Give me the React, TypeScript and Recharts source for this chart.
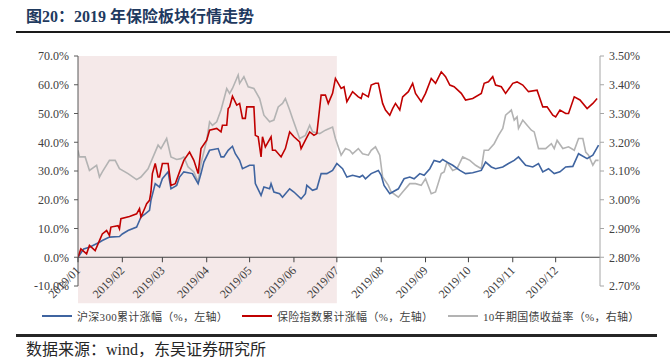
import React from "react"
import { LineChart, Line, XAxis, YAxis, ReferenceArea, ReferenceLine } from "recharts"

// x = day of year (0 = 2019/01/01), calendar-spaced like the source chart
const monthTicks = [0, 31, 59, 90, 120, 151, 181, 212, 243, 273, 304, 334]
const monthLabels = [
  "2019/01", "2019/02", "2019/03", "2019/04", "2019/05", "2019/06",
  "2019/07", "2019/08", "2019/09", "2019/10", "2019/11", "2019/12",
]
const leftTicks = [-10, 0, 10, 20, 30, 40, 50, 60, 70]
const rightTicks = [2.7, 2.8, 2.9, 3.0, 3.1, 3.2, 3.3, 3.4, 3.5]

// 沪深300累计涨幅 (%)
const hs300: [number, number][] = [
  [0, 0], [4, 2.9], [8, 3.5], [15, 5.2], [17, 5.8], [22, 7.0], [29, 7.2], [31, 8.1], [35, 9.3],
  [41, 10.5], [43, 12.8], [44, 14.0], [47, 15.1], [50, 16.3], [51, 19.8], [54, 25.6], [57, 24.4],
  [59, 27.3], [63, 29.7], [65, 23.8], [69, 25.0], [71, 27.9], [74, 29.7], [80, 29.1], [84, 25.6],
  [86, 29.1], [88, 33.1], [92, 37.2], [98, 37.8], [100, 34.9], [102, 34.9], [105, 37.2], [108, 38.6],
  [110, 36.0], [113, 33.7], [115, 30.8], [120, 32.0], [123, 32.0], [124, 25.6], [128, 21.5],
  [130, 24.4], [134, 23.8], [135, 25.6], [137, 22.7], [141, 22.1], [143, 20.9], [148, 23.8],
  [151, 22.7], [156, 20.3], [159, 22.1], [160, 25.0], [164, 23.3], [167, 23.8], [170, 29.1],
  [174, 29.1], [178, 30.2], [181, 32.6], [185, 30.8], [188, 27.9], [192, 28.5], [197, 27.9],
  [199, 28.5], [201, 27.3], [205, 29.1], [210, 30.2], [212, 28.5], [214, 25.0], [218, 22.1],
  [220, 22.7], [224, 23.8], [228, 27.3], [232, 27.9], [235, 27.3], [239, 29.1], [242, 28.5],
  [246, 30.8], [249, 33.7], [253, 33.1], [255, 34.0], [258, 33.1], [262, 32.0], [267, 30.2],
  [271, 29.1], [276, 29.4], [282, 30.2], [285, 33.1], [289, 31.4], [292, 30.8], [297, 31.4],
  [301, 32.6], [305, 33.7], [308, 34.9], [313, 32.0], [318, 31.4], [322, 32.6], [325, 29.7],
  [329, 30.8], [333, 29.1], [337, 29.7], [341, 31.4], [346, 31.6], [350, 36.0], [356, 34.3],
  [360, 35.5], [364, 39.0],
]

// 保险指数累计涨幅 (%)
const insurance: [number, number][] = [
  [0, 0], [2, 2.9], [6, 1.2], [8, 4.1], [12, 2.3], [15, 5.8], [17, 8.1], [20, 9.3], [22, 7.6],
  [23, 10.5], [28, 11.0], [29, 9.9], [30, 13.4], [36, 14.2], [41, 15.1], [43, 16.9], [44, 14.0],
  [47, 17.4], [48, 18.6], [50, 19.8], [51, 22.7], [52, 29.1], [54, 32.6], [56, 27.9], [57, 27.9],
  [59, 32.6], [63, 32.6], [65, 25.0], [68, 25.6], [71, 29.7], [74, 33.7], [78, 36.6], [81, 33.7],
  [84, 29.1], [86, 37.8], [90, 40.7], [92, 44.2], [97, 44.8], [100, 43.6], [101, 45.9], [104, 45.9],
  [105, 51.7], [106, 52.3], [108, 56.0], [111, 52.9], [113, 53.5], [115, 48.3], [117, 48.3],
  [118, 52.3], [123, 52.3], [124, 42.4], [126, 41.9], [128, 34.9], [129, 41.9], [131, 38.4],
  [135, 41.9], [136, 37.2], [138, 37.2], [142, 34.9], [145, 37.8], [148, 43.6], [151, 41.9],
  [155, 40.1], [156, 37.8], [159, 40.7], [162, 43.6], [165, 42.4], [167, 43.0], [170, 56.4],
  [173, 56.4], [175, 53.5], [178, 57.0], [180, 62.2], [184, 58.7], [186, 59.3], [188, 54.1],
  [192, 57.6], [196, 55.8], [198, 55.2], [199, 57.0], [203, 55.8], [205, 59.9], [208, 60.5],
  [210, 60.5], [213, 53.5], [215, 51.2], [218, 49.4], [220, 51.7], [222, 53.5], [225, 51.2],
  [227, 55.8], [231, 57.6], [234, 60.5], [236, 57.0], [240, 54.1], [243, 57.0], [247, 62.2],
  [250, 60.5], [254, 64.5], [257, 62.8], [260, 59.9], [263, 59.3], [268, 57.0], [271, 54.7],
  [276, 55.2], [282, 57.0], [284, 60.5], [287, 61.0], [290, 62.8], [292, 59.9], [296, 59.3],
  [299, 57.0], [304, 60.5], [307, 61.0], [311, 59.9], [315, 57.6], [321, 58.1], [325, 52.3],
  [328, 52.3], [332, 49.4], [334, 48.8], [337, 51.2], [341, 50.0], [343, 50.0], [347, 55.8],
  [351, 54.7], [356, 51.7], [360, 53.5], [363, 55.2],
]

// 10年期国债收益率 (%)
const bondYield: [number, number][] = [
  [0, 3.172], [1, 3.149], [5, 3.149], [8, 3.102], [13, 3.12], [15, 3.079], [17, 3.097], [22, 3.137],
  [26, 3.137], [29, 3.108], [35, 3.091], [41, 3.07], [44, 3.079], [49, 3.108], [52, 3.143],
  [56, 3.19], [58, 3.178], [62, 3.213], [65, 3.149], [69, 3.14], [72, 3.143], [74, 3.149],
  [77, 3.114], [81, 3.097], [84, 3.062], [86, 3.126], [90, 3.207], [92, 3.271], [94, 3.259],
  [97, 3.271], [100, 3.312], [104, 3.387], [106, 3.37], [108, 3.387], [112, 3.434], [113, 3.405],
  [116, 3.428], [119, 3.393], [123, 3.387], [127, 3.352], [130, 3.294], [134, 3.271], [137, 3.277],
  [140, 3.323], [143, 3.335], [145, 3.352], [148, 3.312], [150, 3.283], [155, 3.213], [159, 3.224],
  [162, 3.259], [164, 3.236], [169, 3.23], [173, 3.242], [178, 3.253], [180, 3.213], [184, 3.155],
  [187, 3.178], [190, 3.172], [192, 3.16], [196, 3.178], [199, 3.16], [203, 3.155], [205, 3.172],
  [208, 3.184], [211, 3.155], [213, 3.079], [217, 3.05], [219, 3.027], [224, 3.009], [227, 3.027],
  [232, 3.056], [236, 3.056], [240, 3.05], [243, 3.073], [247, 3.021], [250, 3.027], [254, 3.091],
  [256, 3.097], [258, 3.131], [262, 3.102], [265, 3.108], [269, 3.149], [274, 3.137], [278, 3.12],
  [282, 3.108], [284, 3.172], [287, 3.172], [291, 3.195], [294, 3.224], [297, 3.248], [299, 3.294],
  [303, 3.312], [305, 3.277], [307, 3.288], [308, 3.248], [311, 3.277], [313, 3.265], [317, 3.242],
  [319, 3.236], [322, 3.178], [327, 3.178], [331, 3.195], [333, 3.178], [335, 3.207], [339, 3.178],
  [343, 3.184], [347, 3.172], [350, 3.213], [353, 3.213], [355, 3.166], [357, 3.155], [360, 3.12],
  [362, 3.137], [364, 3.137],
]

// shaded first half of the year
const shadeFrom = 0
const shadeTo = 181

const W = 670
const H = 358
const TOP = 56
const PLOT_H = 230
const ZERO_Y = TOP + (PLOT_H * 70) / 80

const serif = "'Liberation Serif', 'Noto Sans CJK SC', serif"
const textColor = "#404040"

const toRows = (arr: [number, number][]) => arr.map(([d, v]) => ({ d, v }))

const MonthTick = (props: any) => {
  const { x, index } = props
  const ax = x + 3
  const ay = ZERO_Y + 14
  return (
    <g>
      <line x1={x} y1={ZERO_Y} x2={x} y2={ZERO_Y + 5} stroke="#404040" />
      <text
        x={ax}
        y={ay}
        transform={`rotate(-45 ${ax} ${ay})`}
        textAnchor="end"
        fontSize={12}
        fontFamily={serif}
        fill={textColor}
      >
        {monthLabels[index]}
      </text>
    </g>
  )
}

const legendItems = [
  { label: "沪深300累计涨幅（%，左轴）", color: "#3f64a0", left: 42 },
  { label: "保险指数累计涨幅（%，左轴）", color: "#c00000", left: 242 },
  { label: "10年期国债收益率（%，右轴）", color: "#b3b3b3", left: 448 },
]

export default function App() {
  return (
    <div style={{ position: "relative", width: W, height: H, background: "#fff", overflow: "hidden" }}>
      <style>{"body{margin:0}"}</style>
      <div
        style={{
          position: "absolute", left: 26, top: 7, fontSize: 16, fontWeight: 700,
          fontFamily: serif, color: "#1f3a5f", lineHeight: "20px", whiteSpace: "nowrap",
        }}
      >
        图20：2019 年保险板块行情走势
      </div>
      <div style={{ position: "absolute", left: 16, top: 31, width: 654, height: 2, background: "#1a1a1a" }} />

      <div style={{ position: "absolute", left: 0, top: 0 }}>
        <LineChart width={W} height={H} margin={{ top: TOP, right: 0, bottom: 0, left: 0 }}>
          <ReferenceArea
            yAxisId="left"
            x1={shadeFrom}
            x2={shadeTo}
            y1={-16}
            y2={70}
            fill="#f5e9e9"
            fillOpacity={1}
            stroke="none"
            ifOverflow="visible"
          />
          <XAxis
            dataKey="d"
            type="number"
            domain={[0, 365]}
            ticks={monthTicks}
            interval={0}
            height={H - TOP - PLOT_H}
            axisLine={false}
            tickLine={false}
            tick={<MonthTick />}
            allowDataOverflow
          />
          <YAxis
            yAxisId="left"
            domain={[-10, 70]}
            ticks={leftTicks}
            interval={0}
            width={78}
            tickFormatter={(v: number) => v.toFixed(1) + "%"}
            axisLine={{ stroke: "#595959" }}
            tickLine={{ stroke: "#595959" }}
            tickSize={4}
            tickMargin={5}
            tick={{ fill: textColor, fontSize: 12, fontFamily: serif }}
          />
          <YAxis
            yAxisId="right"
            orientation="right"
            domain={[2.7, 3.5]}
            ticks={rightTicks}
            interval={0}
            width={70}
            tickFormatter={(v: number) => v.toFixed(2) + "%"}
            axisLine={{ stroke: "#a6a6a6" }}
            tickLine={{ stroke: "#a6a6a6" }}
            tickSize={4}
            tickMargin={5}
            tick={{ fill: textColor, fontSize: 12, fontFamily: serif }}
          />
          <ReferenceLine yAxisId="left" y={0} stroke="#404040" strokeWidth={1} />
          <Line
            yAxisId="right"
            data={toRows(bondYield)}
            dataKey="v"
            stroke="#b3b3b3"
            strokeWidth={1.6}
            dot={false}
            isAnimationActive={false}
          />
          <Line
            yAxisId="left"
            data={toRows(hs300)}
            dataKey="v"
            stroke="#3f64a0"
            strokeWidth={1.6}
            dot={false}
            isAnimationActive={false}
          />
          <Line
            yAxisId="left"
            data={toRows(insurance)}
            dataKey="v"
            stroke="#c00000"
            strokeWidth={1.6}
            dot={false}
            isAnimationActive={false}
          />
        </LineChart>
      </div>

      {legendItems.map((it) => (
        <div
          key={it.label}
          style={{
            position: "absolute", left: it.left, top: 308, height: 16, display: "flex",
            alignItems: "center", whiteSpace: "nowrap",
          }}
        >
          <div style={{ width: 30, height: 2, background: it.color, marginRight: 5 }} />
          <span style={{ fontSize: 11, fontFamily: serif, color: textColor, letterSpacing: 0.3 }}>{it.label}</span>
        </div>
      ))}

      <div style={{ position: "absolute", left: 16, top: 334, width: 641, height: 2.5, background: "#262626" }} />
      <div
        style={{
          position: "absolute", left: 26, top: 340, fontSize: 16, fontFamily: serif,
          color: "#262626", lineHeight: "20px", whiteSpace: "nowrap",
        }}
      >
        数据来源：wind，东吴证券研究所
      </div>
    </div>
  )
}
